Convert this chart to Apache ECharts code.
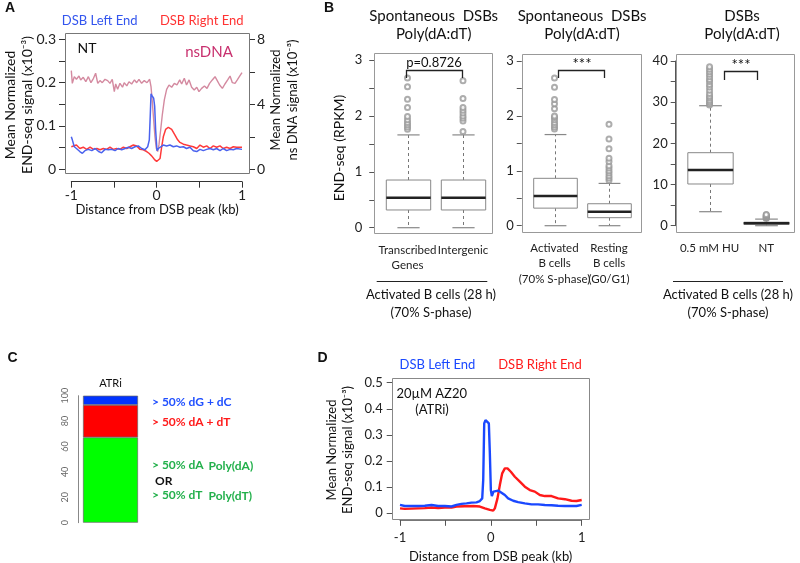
<!DOCTYPE html>
<html><head><meta charset="utf-8">
<script src="https://cdn.jsdelivr.net/npm/echarts@6/dist/echarts.min.js"></script>
<style>html,body{margin:0;padding:0;background:#fff}#c{width:800px;height:563px}</style>
</head><body><div id="c"></div>
<script>
// ---------- DATA ----------
// Panel A (NT): x = distance from DSB peak (kb)
const aLeftEnd = [[-1,0.075],[-0.988,0.068],[-0.965,0.052],[-0.94,0.048],[-0.9,0.041],[-0.87,0.037],[-0.84,0.043],[-0.8,0.046],[-0.76,0.043],[-0.72,0.048],[-0.68,0.041],[-0.645,0.038],[-0.605,0.046],[-0.566,0.045],[-0.527,0.046],[-0.488,0.043],[-0.45,0.048],[-0.41,0.045],[-0.37,0.048],[-0.33,0.051],[-0.293,0.048],[-0.254,0.052],[-0.215,0.054],[-0.176,0.048],[-0.137,0.045],[-0.105,0.052],[-0.086,0.068],[-0.074,0.129],[-0.066,0.174],[-0.051,0.169],[-0.035,0.164],[-0.023,0.145],[-0.012,0.091],[0.004,0.043],[0.02,0.048],[0.04,0.052],[0.078,0.056],[0.117,0.054],[0.156,0.056],[0.195,0.052],[0.234,0.054],[0.273,0.051],[0.313,0.052],[0.35,0.048],[0.39,0.051],[0.43,0.043],[0.47,0.041],[0.508,0.046],[0.547,0.043],[0.586,0.046],[0.625,0.048],[0.664,0.045],[0.703,0.048],[0.742,0.043],[0.78,0.048],[0.82,0.043],[0.86,0.046],[0.898,0.045],[0.937,0.048],[1,0.046]];
const aRightEnd = [[-1,0.052],[-0.977,0.048],[-0.94,0.056],[-0.9,0.048],[-0.86,0.051],[-0.82,0.046],[-0.78,0.051],[-0.74,0.046],[-0.7,0.048],[-0.664,0.045],[-0.625,0.048],[-0.586,0.046],[-0.547,0.051],[-0.508,0.046],[-0.47,0.048],[-0.43,0.046],[-0.39,0.051],[-0.35,0.048],[-0.313,0.052],[-0.273,0.056],[-0.234,0.054],[-0.195,0.046],[-0.156,0.045],[-0.117,0.041],[-0.09,0.037],[-0.059,0.031],[-0.027,0.023],[0,0.018],[0.02,0.015],[0.04,0.025],[0.059,0.052],[0.078,0.075],[0.105,0.092],[0.137,0.097],[0.176,0.092],[0.215,0.079],[0.246,0.068],[0.273,0.062],[0.313,0.058],[0.35,0.056],[0.39,0.054],[0.43,0.052],[0.47,0.048],[0.508,0.056],[0.547,0.051],[0.586,0.054],[0.625,0.048],[0.664,0.054],[0.703,0.051],[0.742,0.054],[0.78,0.048],[0.82,0.051],[0.86,0.048],[0.898,0.052],[0.937,0.051],[1,0.051]];
const aNsDNA = [[-1,6.07],[-0.988,5.29],[-0.965,5.7],[-0.94,5.54],[-0.91,5.74],[-0.89,5.5],[-0.86,5.66],[-0.83,5.39],[-0.8,5.7],[-0.77,5.33],[-0.74,5.6],[-0.715,5.91],[-0.69,5.29],[-0.664,5.46],[-0.637,5.33],[-0.605,5.54],[-0.574,5.46],[-0.547,5.29],[-0.52,5.54],[-0.496,4.78],[-0.48,5.25],[-0.457,4.92],[-0.43,5.29],[-0.4,5.05],[-0.38,5.33],[-0.35,5.13],[-0.324,5.39],[-0.293,5.25],[-0.26,5.5],[-0.234,5.33],[-0.207,5.54],[-0.176,5.29],[-0.145,5.46],[-0.113,5.33],[-0.082,5.54],[-0.066,5.09],[-0.051,4.16],[-0.035,3.04],[-0.02,2.01],[-0.004,1.29],[0.012,1.09],[0.027,1.5],[0.047,2.42],[0.066,3.34],[0.09,4.27],[0.117,4.92],[0.145,5.19],[0.176,5.05],[0.207,5.29],[0.238,5.19],[0.27,5.5],[0.293,5.25],[0.324,5.6],[0.35,5.19],[0.38,5.5],[0.41,5.05],[0.44,4.88],[0.47,5.05],[0.496,4.78],[0.527,4.98],[0.56,5.13],[0.59,4.98],[0.62,5.29],[0.652,5.5],[0.684,5.7],[0.71,5.46],[0.738,5.19],[0.77,4.98],[0.8,5.25],[0.832,5.5],[0.86,5.74],[0.887,5.33],[0.918,5.29],[0.945,5.5],[0.969,5.7],[1,5.95]];

// Panel B boxplots: [lower whisker, Q1, median, Q3, upper whisker]
const b1Cats = ['Transcribed\nGenes', 'Intergenic'];
const b1Boxes = [[0, 0.317, 0.537, 0.853, 1.66], [0, 0.317, 0.537, 0.853, 1.66]];
const b1OutTranscribed = [1.76, 1.80, 1.84, 1.88, 1.93, 1.99, 2.15, 2.30, 2.52, 2.68];
const b1OutIntergenic = [1.72, 1.91, 1.96, 2.0, 2.05, 2.10, 2.15, 2.31, 2.63];

const b2Cats = ['Activated\nB cells\n(70% S-phase)', 'Resting\nB cells\n(G0/G1)'];
const b2Boxes = [[0, 0.32, 0.54, 0.863, 1.66], [0, 0.146, 0.255, 0.40, 0.77]];
const b2OutActivated = [1.76, 1.80, 1.84, 1.88, 1.93, 1.97, 2.0, 2.13, 2.22, 2.30, 2.52, 2.69];
const b2OutResting = [0.83, 0.87, 0.91, 0.96, 1.0, 1.05, 1.09, 1.17, 1.23, 1.40, 1.58, 1.85];

const b3Cats = ['0.5 mM HU', 'NT'];
const b3Boxes = [[3.4, 10.13, 13.53, 17.73, 29.14], [0, 0.35, 0.6, 0.85, 1.6]];
const b3OutHU = [29.3, 29.7, 30.1, 30.5, 31.1, 31.5, 32.1, 32.9, 33.7, 34.3, 35.0, 35.5, 36.2, 36.8, 37.4, 38.0, 38.6, 41.3];
const b3OutNT = [1.75, 1.9, 2.0, 2.1, 2.2, 2.3, 2.45, 2.6, 2.7];

// Panel C: stacked percentages
const cCats = ['ATRi'];
const cPolyAT = [67.2];
const cAT = [25.5];
const cGC = [7.3];

// Panel D (20uM AZ20, ATRi)
const dLeftEnd = [[-1,0.032],[-0.947,0.028],[-0.873,0.028],[-0.8,0.028],[-0.727,0.029],[-0.653,0.032],[-0.58,0.028],[-0.506,0.028],[-0.433,0.026],[-0.378,0.032],[-0.323,0.036],[-0.268,0.038],[-0.213,0.041],[-0.158,0.042],[-0.121,0.047],[-0.095,0.057],[-0.084,0.128],[-0.073,0.344],[-0.059,0.357],[-0.037,0.355],[-0.022,0.344],[-0.011,0.23],[0,0.089],[0.011,0.066],[0.029,0.083],[0.051,0.089],[0.081,0.087],[0.117,0.079],[0.154,0.07],[0.19,0.057],[0.246,0.048],[0.3,0.043],[0.374,0.038],[0.448,0.034],[0.52,0.034],[0.594,0.032],[0.668,0.031],[0.74,0.029],[0.815,0.028],[0.888,0.028],[0.943,0.028],[1,0.032]];
const dRightEnd = [[-1,0.019],[-0.947,0.017],[-0.873,0.018],[-0.8,0.019],[-0.727,0.02],[-0.653,0.022],[-0.58,0.02],[-0.506,0.022],[-0.433,0.022],[-0.378,0.026],[-0.286,0.027],[-0.194,0.028],[-0.121,0.026],[-0.066,0.019],[-0.011,0.013],[0.026,0.01],[0.044,0.019],[0.073,0.057],[0.099,0.108],[0.125,0.153],[0.154,0.172],[0.183,0.172],[0.22,0.159],[0.264,0.14],[0.319,0.121],[0.374,0.102],[0.429,0.089],[0.484,0.083],[0.539,0.07],[0.594,0.066],[0.668,0.066],[0.74,0.057],[0.815,0.054],[0.888,0.048],[0.943,0.047],[1,0.051]];

// ---------- CHART ----------
const FONT = 'Lato, "Open Sans", "DejaVu Sans", sans-serif';
const AX = '#333';
const chart = echarts.init(document.getElementById('c'), null, {renderer: 'canvas'});

function boxItem(params, api) {
  const i = api.value(0);
  const c = v => api.coord([i, v]);
  const lo = c(api.value(1)), q1 = c(api.value(2)), md = c(api.value(3)), q3 = c(api.value(4)), hi = c(api.value(5));
  const bw = api.size([1, 0])[0] * 0.8;
  const cx = Math.round(lo[0]) + 0.5;
  const sw = bw / 2;
  const dash = {stroke: '#777', lineWidth: 1, lineDash: [3, 3]};
  const solid = {stroke: '#888', lineWidth: 1.2};
  return {type: 'group', children: [
    {type: 'line', shape: {x1: cx, y1: q3[1], x2: cx, y2: hi[1]}, style: dash},
    {type: 'line', shape: {x1: cx, y1: q1[1], x2: cx, y2: lo[1]}, style: dash},
    {type: 'line', shape: {x1: cx - sw / 2, y1: hi[1], x2: cx + sw / 2, y2: hi[1]}, style: solid},
    {type: 'line', shape: {x1: cx - sw / 2, y1: lo[1], x2: cx + sw / 2, y2: lo[1]}, style: solid},
    {type: 'rect', shape: {x: cx - bw / 2, y: q3[1], width: bw, height: q1[1] - q3[1]}, style: {fill: '#fff', stroke: '#888', lineWidth: 1}},
    {type: 'line', shape: {x1: cx - bw / 2, y1: md[1], x2: cx + bw / 2, y2: md[1]}, style: {stroke: '#222', lineWidth: 2.5}}
  ]};
}
const outPts = (a, b) => a.map(v => [0, v]).concat(b.map(v => [1, v]));
const boxData = boxes => boxes.map((b, i) => [i].concat(b));

function catX(grid, cats) {
  return {type: 'category', gridIndex: grid, data: cats, offset: 5.5,
    axisLine: {show: false, onZero: false}, axisTick: {alignWithLabel: true, length: 5, lineStyle: {color: '#555'}},
    axisLabel: {interval: 0, color: '#222', fontFamily: FONT, fontSize: 11.5, lineHeight: 15.5, margin: 9}};
}
function valY(grid, min, max, interval, every, margin) {
  return {type: 'value', gridIndex: grid, min, max, interval, offset: 5.5,
    splitLine: {show: false},
    axisLine: {show: true, onZero: false, lineStyle: {color: '#555'}},
    axisTick: {show: true, length: 5, lineStyle: {color: '#555'}},
    axisLabel: {color: '#222', fontFamily: FONT, fontSize: 13, margin,
      formatter: v => (Math.abs(Math.round(v / every) * every - v) < 1e-6) ? String(Math.round(v)) : ''}};
}
function txt(x, y, text, opt) {
  opt = opt || {};
  const el = {type: 'text', x, y, silent: true, z: 20, style: {
    text, fill: opt.fill || '#111', fontFamily: opt.fontFamily || FONT, fontSize: opt.fontSize || 13,
    fontWeight: opt.fontWeight || 'normal', lineHeight: opt.lineHeight,
    align: opt.align || 'center', verticalAlign: 'middle'}};
  if (opt.rot) el.rotation = Math.PI / 2;
  return el;
}
function seg(x1, y1, x2, y2, col, w) {
  return {type: 'line', z: 15, silent: true, shape: {x1, y1, x2, y2}, style: {stroke: col || '#222', lineWidth: w || 1}};
}
function frame(x1, y1, x2, y2, col) {
  return [seg(x1, y1, x2, y1, col), seg(x2, y1, x2, y2, col), seg(x1, y2, x2, y2, col), seg(x1, y1, x1, y2, col)];
}
function bracket(x1, x2, yTop, yBot) {
  return {type: 'polyline', silent: true, z: 15, shape: {points: [[x1, yBot], [x1, yTop], [x2, yTop], [x2, yBot]]},
    style: {fill: null, stroke: '#222', lineWidth: 1.3}};
}
const LET = {fontFamily: '"Liberation Sans", Arial, sans-serif', fontWeight: 'bold', fontSize: 14};

const option = {
  animation: false,
  backgroundColor: '#fff',
  textStyle: {fontFamily: FONT},
  grid: [
    {left: 71.3, top: 39.3, width: 170.7, height: 130},      // A
    {left: 379.75, top: 60, width: 111, height: 167.7},      // B1
    {left: 527.25, top: 61, width: 109, height: 164.7},      // B2
    {left: 681.2, top: 61, width: 113.4, height: 164.7},     // B3
    {left: 78, top: 395.7, width: 65, height: 127},          // C
    {left: 400, top: 382.7, width: 181.7, height: 130.6}     // D
  ],
  xAxis: [
    {type: 'value', gridIndex: 0, min: -1, max: 1, interval: 0.5, offset: 12.4,
      splitLine: {show: false}, axisLine: {show: true, onZero: false, lineStyle: {color: AX}},
      axisTick: {length: 6, lineStyle: {color: AX}},
      axisLabel: {color: '#222', fontSize: 14, fontFamily: FONT, margin: 7, formatter: v => Number.isInteger(v) ? String(v) : ''}},
    catX(1, b1Cats), catX(2, b2Cats), catX(3, b3Cats),
    {type: 'category', gridIndex: 4, data: cCats, position: 'top', axisLine: {show: false, onZero: false}, axisTick: {show: false},
      axisLabel: {color: '#111', fontSize: 11, fontFamily: FONT, margin: 7}},
    {type: 'value', gridIndex: 5, min: -1, max: 1, interval: 0.5, offset: 6.5,
      splitLine: {show: false}, axisLine: {show: true, onZero: false, lineStyle: {color: '#777'}},
      axisTick: {length: 6, lineStyle: {color: '#555'}},
      axisLabel: {color: '#222', fontSize: 13, fontFamily: FONT, margin: 12, formatter: v => Number.isInteger(v) ? String(v) : ''}}
  ],
  yAxis: [
    {type: 'value', gridIndex: 0, min: 0, max: 0.3, interval: 0.05, offset: 6.3,
      splitLine: {show: false}, axisLine: {show: true, onZero: false, lineStyle: {color: '#777'}},
      axisTick: {length: 6, lineStyle: {color: AX}},
      axisLabel: {color: '#222', fontSize: 14, fontFamily: FONT, margin: 9,
        formatter: v => (Math.round(v * 100) % 10 === 0) ? (v === 0 ? '0' : (+v.toFixed(1)).toString()) : ''}},
    {type: 'value', gridIndex: 0, position: 'right', min: 0, max: 8, interval: 2, offset: 7,
      splitLine: {show: false}, axisLine: {show: true, onZero: false, lineStyle: {color: '#777'}},
      axisTick: {length: 6, lineStyle: {color: AX}},
      axisLabel: {color: '#222', fontSize: 14, fontFamily: FONT, margin: 8, formatter: v => v % 4 === 0 ? String(v) : ''}},
    valY(1, 0, 3, 0.5, 1, 12),
    valY(2, 0, 3, 0.5, 1, 8),
    valY(3, 0, 40, 5, 10, 8),
    {type: 'value', gridIndex: 4, min: 0, max: 100, interval: 20, splitLine: {show: false},
      axisLine: {show: true, onZero: false, lineStyle: {color: '#888'}}, axisTick: {length: 4, lineStyle: {color: '#888'}},
      axisLabel: {rotate: 90, color: '#666', fontSize: 9, fontFamily: FONT, margin: 8}},
    {type: 'value', gridIndex: 5, min: 0, max: 0.5, interval: 0.1, offset: 7.3,
      splitLine: {show: false}, axisLine: {show: true, onZero: false, lineStyle: {color: '#777'}},
      axisTick: {length: 6, lineStyle: {color: '#555'}},
      axisLabel: {color: '#222', fontSize: 13, fontFamily: FONT, margin: 10,
        formatter: v => v === 0 ? '0' : (+v.toFixed(1)).toString()}}
  ],
  series: [
    // Panel A
    {type: 'line', xAxisIndex: 0, yAxisIndex: 1, data: aNsDNA, showSymbol: false, lineStyle: {color: '#d48aa0', width: 1.4}},
    {type: 'line', xAxisIndex: 0, yAxisIndex: 0, data: aRightEnd, showSymbol: false, lineStyle: {color: '#ff3a3a', width: 1.5}},
    {type: 'line', xAxisIndex: 0, yAxisIndex: 0, data: aLeftEnd, showSymbol: false, lineStyle: {color: '#4a62ee', width: 1.5}},
    // Panel B
    {type: 'custom', xAxisIndex: 1, yAxisIndex: 2, renderItem: boxItem, data: boxData(b1Boxes), encode: {x: 0, y: [1, 2, 3, 4, 5]}},
    {type: 'scatter', xAxisIndex: 1, yAxisIndex: 2, data: outPts(b1OutTranscribed, b1OutIntergenic), symbol: 'emptyCircle', symbolSize: 5, itemStyle: {color: '#999', borderWidth: 1}},
    {type: 'custom', xAxisIndex: 2, yAxisIndex: 3, renderItem: boxItem, data: boxData(b2Boxes), encode: {x: 0, y: [1, 2, 3, 4, 5]}},
    {type: 'scatter', xAxisIndex: 2, yAxisIndex: 3, data: outPts(b2OutActivated, b2OutResting), symbol: 'emptyCircle', symbolSize: 5, itemStyle: {color: '#999', borderWidth: 1}},
    {type: 'custom', xAxisIndex: 3, yAxisIndex: 4, renderItem: boxItem, data: boxData(b3Boxes), encode: {x: 0, y: [1, 2, 3, 4, 5]}},
    {type: 'scatter', xAxisIndex: 3, yAxisIndex: 4, data: outPts(b3OutHU, b3OutNT), symbol: 'emptyCircle', symbolSize: 5, itemStyle: {color: '#999', borderWidth: 1}},
    // Panel C
    {type: 'bar', xAxisIndex: 4, yAxisIndex: 5, stack: 'c', data: cPolyAT, barWidth: 55, itemStyle: {color: '#00ff00', borderColor: '#666', borderWidth: 0.7}},
    {type: 'bar', xAxisIndex: 4, yAxisIndex: 5, stack: 'c', data: cAT, barWidth: 55, itemStyle: {color: '#ff0000', borderColor: '#666', borderWidth: 0.7}},
    {type: 'bar', xAxisIndex: 4, yAxisIndex: 5, stack: 'c', data: cGC, barWidth: 55, itemStyle: {color: '#0033ff', borderColor: '#666', borderWidth: 0.7}},
    // Panel D
    {type: 'line', xAxisIndex: 5, yAxisIndex: 6, data: dRightEnd, showSymbol: false, lineStyle: {color: '#ff1a1a', width: 2.4}},
    {type: 'line', xAxisIndex: 5, yAxisIndex: 6, data: dLeftEnd, showSymbol: false, lineStyle: {color: '#1a48ff', width: 2.4}}
  ],
  graphic: {elements: [].concat(
    // frames
    frame(65.5, 33.5, 249.5, 173.5, '#777'),
    frame(374.5, 53.5, 492.5, 233.5, '#999'),
    frame(522.5, 54.5, 641.5, 232.5, '#999'),
    frame(676.5, 54.5, 794.5, 232.5, '#999'),
    frame(392.5, 378.5, 589.5, 519.5, '#888'),
    [
    // panel letters
    txt(10, 8, 'A', LET),
    txt(329, 8, 'B', LET),
    txt(12.5, 358, 'C', LET),
    txt(322.5, 358, 'D', LET),
    // Panel A texts
    txt(99.7, 21, 'DSB Left End', {fill: '#3355ee', fontSize: 13}),
    txt(201.7, 21, 'DSB Right End', {fill: '#ff3333', fontSize: 13}),
    txt(87, 48, 'NT', {fontSize: 14}),
    txt(209, 52, 'nsDNA', {fill: '#c8306e', fontSize: 15}),
    txt(18.5, 105, 'Mean Normalized\nEND-seq signal (x10⁻³)', {rot: true, fontSize: 14, lineHeight: 17}),
    txt(284.5, 100, 'Mean Normalized\nns DNA signal (x10⁻³)', {rot: true, fontSize: 13, lineHeight: 17}),
    txt(157, 210, 'Distance from DSB peak (kb)', {fontSize: 13}),
    // Panel B texts
    txt(433.7, 25, 'Spontaneous  DSBs\nPoly(dA:dT)', {fontSize: 15, lineHeight: 18}),
    txt(582, 25, 'Spontaneous  DSBs\nPoly(dA:dT)', {fontSize: 15, lineHeight: 18}),
    txt(742, 25, 'DSBs\nPoly(dA:dT)', {fontSize: 15, lineHeight: 18}),
    txt(339, 148, 'END-seq (RPKM)', {rot: true, fontSize: 14}),
    bracket(406.5, 462.5, 70.5, 78), txt(434, 63, 'p=0.8726', {fontSize: 13}),
    bracket(558.5, 604.5, 70.5, 78), txt(582, 64, '***', {fontSize: 15}),
    bracket(724.5, 757.5, 71.5, 80), txt(741, 65, '***', {fontSize: 15}),
    seg(376.7, 281.5, 487.3, 281.5), txt(431, 304, 'Activated B cells (28 h)\n(70% S-phase)', {fontSize: 13, lineHeight: 18}),
    seg(673, 281.5, 783, 281.5), txt(728, 304, 'Activated B cells (28 h)\n(70% S-phase)', {fontSize: 13, lineHeight: 18}),
    // Panel C texts
    txt(152, 402, '> 50% dG + dC', {fill: '#2050ff', fontWeight: 'bold', fontSize: 12, align: 'left'}),
    txt(152, 422, '> 50% dA + dT', {fill: '#ff1a1a', fontWeight: 'bold', fontSize: 12, align: 'left'}),
    txt(152, 465, '> 50% dA', {fill: '#22b04b', fontWeight: 'bold', fontSize: 12, align: 'left'}),
    txt(208.5, 466, 'Poly(dA)', {fill: '#22b04b', fontWeight: 'bold', fontSize: 12, align: 'left'}),
    txt(155, 481, 'OR', {fill: '#111', fontWeight: 'bold', fontSize: 12, align: 'left'}),
    txt(152, 495, '> 50% dT', {fill: '#22b04b', fontWeight: 'bold', fontSize: 12, align: 'left'}),
    txt(208.5, 496, 'Poly(dT)', {fill: '#22b04b', fontWeight: 'bold', fontSize: 12, align: 'left'}),
    // Panel D texts
    txt(437.5, 365, 'DSB Left End', {fill: '#1a48ff', fontSize: 13}),
    txt(540, 365, 'DSB Right End', {fill: '#ff1a1a', fontSize: 13}),
    txt(431.7, 393.5, '20µM AZ20', {fontSize: 13}),
    txt(432, 409.5, '(ATRi)', {fontSize: 13}),
    txt(340, 450, 'Mean Normalized\nEND-seq signal (x10⁻³)', {rot: true, fontSize: 13, lineHeight: 16}),
    txt(490.7, 557, 'Distance from DSB peak (kb)', {fontSize: 13})
  ])}
};
chart.setOption(option);
</script></body></html>
